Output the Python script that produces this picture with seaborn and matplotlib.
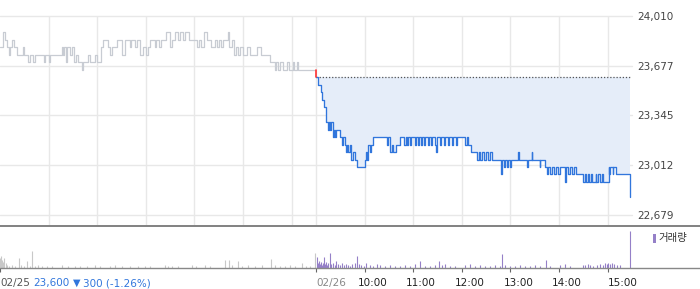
import matplotlib
matplotlib.use("Agg")
import matplotlib.pyplot as plt
import seaborn as sns
import pandas as pd
from matplotlib.lines import Line2D
from matplotlib.patches import Rectangle
from matplotlib.transforms import ScaledTranslation
from matplotlib.ticker import FuncFormatter

# ---------------- data ----------------
# minutes since 09:00 and price (step changes) for 02/25
day1_times = [0, 4, 6, 9, 11, 12, 15, 17, 21, 28, 30, 35, 37, 41, 43, 54, 56, 60, 62,
              77, 78, 79, 81, 83, 86, 89, 91, 94, 96, 101, 102, 109, 111, 117, 120, 125, 127,
              133, 136, 138, 144, 151, 154, 160, 162, 167, 169, 173, 176, 180, 183, 185,
              191, 193, 196, 199, 205, 210, 212, 216, 220, 222, 226, 228, 233, 243, 246,
              248, 252, 255, 260, 265, 268, 270, 273, 275, 281, 283, 286, 289, 291, 294,
              296, 300, 305, 309, 317, 322, 333, 339, 341, 343, 346, 349, 354, 357, 362,
              363, 366, 368, 389]
day1_prices = [23800, 23900, 23850, 23800, 23750, 23800, 23850, 23800, 23750, 23800, 23750, 23700,
               23750, 23700, 23750, 23700, 23750, 23700, 23750,
               23800, 23750, 23800, 23700, 23800, 23750, 23800, 23700, 23750, 23700, 23650, 23700,
               23750, 23700, 23750, 23700, 23800, 23850,
               23800, 23750, 23800, 23850, 23750, 23850, 23800, 23850, 23800, 23850, 23750, 23800,
               23750, 23800, 23850,
               23800, 23850, 23800, 23850, 23900, 23800, 23850, 23900, 23850, 23900, 23850, 23900,
               23850, 23800, 23850,
               23800, 23900, 23850, 23800, 23850, 23800, 23850, 23800, 23850, 23900, 23800, 23850,
               23750, 23800, 23750,
               23800, 23750, 23800, 23750, 23800, 23750, 23700, 23650, 23700, 23650, 23700, 23650,
               23700, 23650, 23700,
               23650, 23700, 23650, 23650]

# minutes since 09:00 and price (step changes) for 02/26
day2_times = [0, 2, 6, 7, 10, 12, 15, 16, 17, 19, 21, 22, 23, 25, 30, 32, 33, 36, 37, 38, 40,
              42, 43, 46, 48, 51, 60, 62, 63, 64, 67, 68, 70, 88, 89, 91, 94, 95, 99, 104,
              109, 111, 112, 114, 116, 117, 120, 122, 123, 126, 127, 130, 131, 133, 135, 138,
              140, 142, 143, 147, 148, 149, 153, 154, 158, 159, 163, 164, 168, 169, 173, 174,
              184, 186, 188, 191, 199, 201, 202, 205, 207, 210, 212, 215, 217, 228, 230, 232,
              233, 236, 237, 239, 241, 249, 250, 260, 262, 266, 267, 276, 277, 283, 285, 286,
              289, 291, 294, 296, 299, 301, 307, 309, 311, 314, 316, 319, 321, 330, 332, 333,
              336, 337, 340, 341, 345, 346, 348, 351, 353, 354, 361, 362, 363, 366, 367, 370,
              387, 388]
day2_prices = [23600, 23550, 23500, 23450, 23400, 23300, 23250, 23300, 23250, 23300, 23200, 23250,
               23200, 23250, 23200, 23150, 23200, 23150, 23100, 23150, 23100,
               23150, 23050, 23100, 23050, 23000, 23050, 23100, 23050, 23150, 23100, 23150, 23200,
               23150, 23200, 23100, 23150, 23100, 23150, 23200,
               23150, 23200, 23150, 23200, 23150, 23200, 23200, 23150, 23200, 23150, 23200, 23150,
               23200, 23150, 23200, 23150,
               23200, 23150, 23200, 23150, 23100, 23200, 23150, 23200, 23150, 23200, 23150, 23200,
               23150, 23200, 23150, 23200,
               23150, 23200, 23150, 23100, 23050, 23100, 23050, 23100, 23050, 23100, 23050, 23100,
               23050, 22950, 23050, 23000,
               23050, 23000, 23050, 23000, 23050, 23100, 23050, 23000, 23050, 23100, 23050, 23000,
               23050, 23000, 22950, 23000,
               22950, 23000, 22950, 23000, 22950, 23000, 22900, 23000, 22950, 23000, 22950, 23000,
               22950, 22900, 22950, 22900,
               22950, 22900, 22950, 22900, 22950, 22900, 22950, 22900, 22950, 22900, 23000, 22950,
               23000, 22950, 23000, 22950,
               22950, 22800]

ref_price = 23600

day1_vol_times = [0, 1, 2, 4, 5, 7, 9, 11, 15, 19, 23, 26, 30, 33, 37, 39, 43, 47, 52, 58, 64,
                  77, 84, 93, 99, 107, 117, 123, 136, 142, 151, 160, 170, 179, 185, 204, 207,
                  212, 220, 237, 242, 253, 259, 278, 283, 286, 294, 299, 306, 315, 323, 334,
                  339, 346, 352, 358, 364, 373, 378, 383, 389]
day1_vol = [10, 12, 8, 6, 10, 5, 3, 2, 3, 2, 10, 3, 2, 7, 2, 17, 2, 3, 2, 2, 2,
            3, 2, 2, 2, 2, 3, 2, 2, 3, 2, 2, 2, 2, 2, 3, 2,
            2, 2, 3, 2, 3, 2, 8, 8, 3, 7, 2, 3, 2, 3, 9,
            3, 2, 2, 3, 2, 5, 2, 2, 15]

day2_vol_times = [1, 2, 4, 5, 6, 7, 9, 10, 11, 12, 14, 15, 17, 19, 21, 23, 25, 27, 30, 32, 35,
                  37, 39, 42, 44, 48, 51, 53, 56, 59, 62, 67, 70, 75, 79, 85, 91, 97, 104, 110,
                  116, 122, 128, 135, 141, 147, 152, 155, 159, 165, 172, 184, 190, 196, 202,
                  209, 215, 221, 227, 230, 233, 239, 246, 252, 258, 264, 270, 276, 284, 289,
                  301, 307, 313, 329, 332, 336, 338, 342, 347, 350, 354, 357, 359, 360, 363,
                  365, 368, 371, 375, 388]
day2_vol = [11, 5, 7, 4, 6, 3, 5, 11, 4, 6, 3, 5, 15, 4, 5, 3, 7, 4, 3, 5, 3,
            4, 3, 2, 4, 5, 12, 4, 3, 2, 5, 3, 2, 4, 3, 2, 3, 2, 2, 3,
            2, 4, 7, 2, 2, 3, 7, 3, 4, 2, 2, 3, 4, 2, 3,
            2, 2, 3, 2, 14, 3, 2, 2, 3, 2, 2, 3, 2, 8, 2,
            3, 4, 2, 3, 3, 4, 3, 2, 3, 4, 3, 5, 4, 5, 4,
            5, 4, 3, 3, 37]

y_ticks = [22679, 23012, 23345, 23677, 24010]
hour_labels = ["10:00", "11:00", "12:00", "13:00", "14:00", "15:00"]
day_labels = ["02/25", "02/26"]
summary_price = "23,600"
summary_change = "300 (-1.26%)"
volume_label = "거래량"

# ---------------- style ----------------
sns.set_style("white")
plt.rcParams["font.family"] = ["DejaVu Sans", "Noto Sans CJK KR"]

W, H = 700, 289
DAY = 390
fig = plt.figure(figsize=(W / 100, H / 100), dpi=100)
ax = fig.add_axes([0, (H - 225) / H, 632 / W, (225 - 16) / H])
axv = fig.add_axes([0, (H - 268) / H, 632 / W, (268 - 226) / H])

GRID = "#e8e8e8"
GRAY_LINE = "#c8ccd3"
BLUE = "#3176dc"
FILL = "#e5edf9"
RED = "#ff3030"
PURPLE = "#9580c8"
GRAY_BAR = "#c8c8c8"

d1 = pd.DataFrame({"t": day1_times, "price": day1_prices})
d2 = pd.DataFrame({"t": [t + DAY for t in day2_times], "price": day2_prices})

xmax = 2 * DAY
ax.set_xlim(0, xmax)
ymin = y_ticks[0] - (y_ticks[-1] - y_ticks[0]) * 10 / 199
ax.set_ylim(ymin, y_ticks[-1])

# grid
hour_x = [60 * k for k in range(1, 7)] + [DAY] + [DAY + 60 * k for k in range(1, 7)]
for xv in hour_x:
    ax.axvline(xv, color=GRID, lw=1, zorder=0)
for yv in y_ticks:
    ax.axhline(yv, color=GRID, lw=1, zorder=0, clip_on=False)

# fill and reference line
ax.fill_between(d2["t"], d2["price"], ref_price, step="post", color=FILL, lw=0, zorder=1)
ax.hlines(ref_price, DAY, d2["t"].iloc[-1], colors="#555555", linestyles=(0, (1, 1.5)), lw=0.9, zorder=2)

sns.lineplot(data=d1, x="t", y="price", ax=ax, color=GRAY_LINE, lw=0.9,
             drawstyle="steps-post", estimator=None, sort=False, zorder=3)
sns.lineplot(data=d2, x="t", y="price", ax=ax, color=BLUE, lw=0.95,
             drawstyle="steps-post", estimator=None, sort=False, zorder=4)
ax.plot([DAY, DAY], [day1_prices[-1], day2_prices[0]], color=RED, lw=1.2, zorder=5)

ax.set_xlabel("")
ax.set_ylabel("")
for s in ax.spines.values():
    s.set_visible(False)
ax.set_xticks([])
ax.yaxis.tick_right()
ax.set_yticks(y_ticks)
ax.yaxis.set_major_formatter(FuncFormatter(lambda v, p: f"{int(round(v)):,}"))
ax.tick_params(axis="y", length=0, pad=4, labelsize=7.5, labelcolor="#444444")

# volume
axv.set_xlim(0, xmax)
axv.set_ylim(0, 42)
axv.vlines(day1_vol_times, 0, day1_vol, colors=GRAY_BAR, lw=0.8)
axv.vlines([t + DAY for t in day2_vol_times], 0, day2_vol, colors=PURPLE, lw=0.8)
for s in axv.spines.values():
    s.set_visible(False)
axv.set_yticks([])
vticks = [0, DAY] + [DAY + 60 * k for k in range(1, 7)]
axv.set_xticks(vticks)
axv.set_xticklabels(day_labels + hour_labels)
axv.tick_params(axis="x", length=3, width=0.8, color="#666666", pad=4, labelsize=7.5,
                labelcolor="#222222", bottom=True)
labels = axv.get_xticklabels()
offsets = [0, 0, -5, -5, -5, -5, -5, 0]
for lab, off in zip(labels, offsets):
    lab.set_horizontalalignment("left")
    lab.set_transform(lab.get_transform() + ScaledTranslation(off / 72, 0, fig.dpi_scale_trans))
labels[0].set_color("#555555")
labels[1].set_color("#888888")

# full-width separator lines
fig.add_artist(Line2D([0, 1], [(H - 225.5) / H] * 2, transform=fig.transFigure, color="#777777", lw=1.3))
fig.add_artist(Line2D([0, 1], [(H - 268) / H] * 2, transform=fig.transFigure, color="#888888", lw=1.0))

# summary text
fig.text(33 / W, (H - 283) / H, summary_price, color=BLUE, fontsize=7.5, va="center", ha="left")
fig.text(73 / W, (H - 283) / H, "\u25bc", color=BLUE, fontsize=7, va="center", ha="left")
fig.text(83 / W, (H - 283) / H, summary_change, color=BLUE, fontsize=7.5, va="center", ha="left")

# legend
fig.add_artist(Rectangle((653 / W, (H - 243) / H), 3 / W, 9 / H, transform=fig.transFigure,
                         color=PURPLE, lw=0))
fig.text(658 / W, (H - 238.5) / H, volume_label, color="#333333", fontsize=7.5, va="center",
         ha="left", family=["Noto Sans CJK KR", "DejaVu Sans"])

fig.savefig("out.png", dpi=100)
